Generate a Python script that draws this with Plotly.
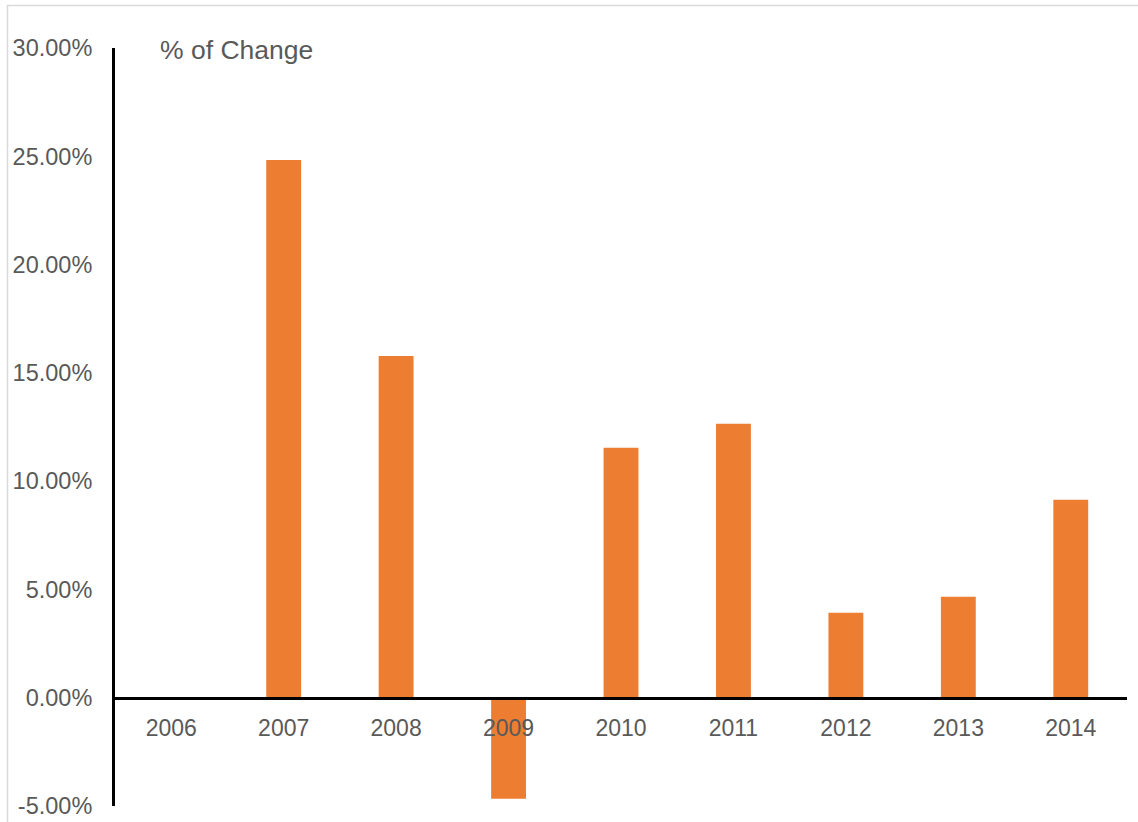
import plotly.graph_objects as go

years = ["2006", "2007", "2008", "2009", "2010", "2011", "2012", "2013", "2014"]
pct_change = [0.0, 24.83, 15.78, -4.66, 11.54, 12.65, 3.92, 4.66, 9.14]
y_ticks = [-5, 0, 5, 10, 15, 20, 25, 30]
y_tick_labels = ["-5.00%", "0.00%", "5.00%", "10.00%", "15.00%", "20.00%", "25.00%", "30.00%"]
title_text = "% of Change"

y_min, y_max = -5, 30
text_color = "#595959"
font_family = "Liberation Sans, Arial, sans-serif"

fig = go.Figure()
fig.add_trace(go.Bar(
    x=years, y=pct_change,
    marker=dict(color="#ED7D31", line=dict(width=0)),
    width=0.31,
))

fig.update_layout(
    width=1138, height=822,
    margin=dict(l=115, r=11, t=48, b=16, autoexpand=False),
    paper_bgcolor="white", plot_bgcolor="white",
    showlegend=False,
    font=dict(family=font_family, color=text_color, size=23),
    xaxis=dict(
        type="category",
        anchor="free",
        position=(0 - y_min) / (y_max - y_min),
        showline=True, linecolor="black", linewidth=3,
        showgrid=False, zeroline=False, automargin=False,
        ticks="", ticklabelstandoff=9,
        tickfont=dict(size=23, color=text_color),
    ),
    yaxis=dict(
        range=[y_min, y_max],
        tickvals=y_ticks, ticktext=y_tick_labels,
        showline=True, linecolor="black", linewidth=3,
        showgrid=False, zeroline=False, automargin=False,
        ticks="", ticklabelstandoff=15,
        tickfont=dict(size=23.5, color=text_color),
    ),
    annotations=[dict(
        text=title_text, xref="paper", yref="paper",
        x=(158 - 115) / 1012, y=(806 - 50) / 758,
        xanchor="left", yanchor="middle", showarrow=False,
        font=dict(size=26.5, color=text_color, family=font_family),
    )],
    shapes=[dict(
        type="rect", xref="paper", yref="paper",
        x0=(7.5 - 115) / 1012, x1=1.2,
        y0=-0.2, y1=(806 - 5.5) / 758,
        line=dict(color="#D9D9D9", width=1.5), fillcolor="rgba(0,0,0,0)",
        layer="below",
    )],
)

fig.write_html("out.html")
